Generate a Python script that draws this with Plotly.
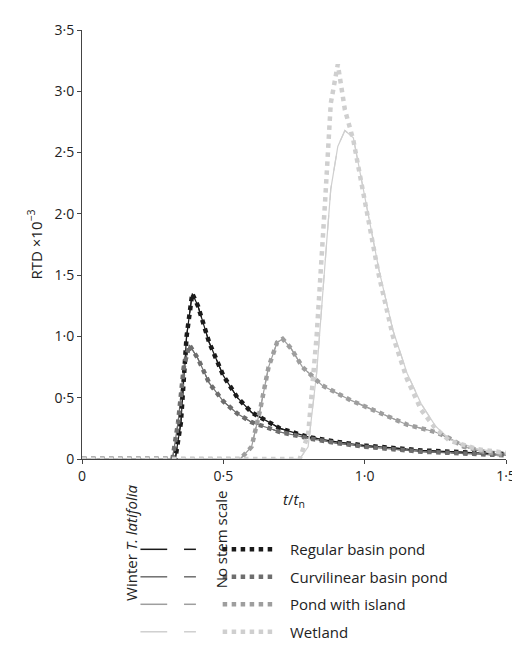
import plotly.graph_objects as go

# t/tn sample points and RTD values (x10^-3)
reg_x = [0, 0.33, 0.35, 0.37, 0.39, 0.41, 0.45, 0.5, 0.55, 0.6, 0.7, 0.8, 0.9, 1.0, 1.1, 1.2, 1.3, 1.4, 1.5]
reg_y = [0, 0, 0.3, 1.0, 1.35, 1.25, 0.95, 0.68, 0.5, 0.38, 0.25, 0.18, 0.14, 0.11, 0.09, 0.07, 0.06, 0.05, 0.04]

cur_x = [0, 0.32, 0.34, 0.36, 0.38, 0.41, 0.45, 0.5, 0.55, 0.6, 0.7, 0.8, 0.9, 1.0, 1.1, 1.2, 1.3, 1.4, 1.5]
cur_y = [0, 0, 0.3, 0.75, 0.93, 0.82, 0.62, 0.47, 0.37, 0.3, 0.22, 0.17, 0.13, 0.1, 0.08, 0.06, 0.05, 0.04, 0.03]

pond_x = [0, 0.56, 0.6, 0.63, 0.66, 0.69, 0.71, 0.74, 0.78, 0.85, 0.95, 1.05, 1.15, 1.25, 1.3, 1.35, 1.42, 1.5]
pond_y = [0, 0, 0.1, 0.4, 0.75, 0.95, 0.98, 0.9, 0.75, 0.6, 0.48, 0.38, 0.28, 0.22, 0.17, 0.1, 0.06, 0.03]

wet_x = [0, 0.77, 0.8, 0.83, 0.86, 0.88, 0.905, 0.93, 0.96, 1.0, 1.05, 1.1, 1.15, 1.2, 1.25, 1.3, 1.4, 1.5]
wet_y = [0, 0, 0.2, 1.0, 2.1, 2.9, 3.22, 2.85, 2.6, 2.1, 1.5, 1.0, 0.65, 0.4, 0.25, 0.15, 0.08, 0.05]
wet_solid_y = [0, 0, 0.1, 0.7, 1.6, 2.2, 2.55, 2.68, 2.62, 2.15, 1.55, 1.05, 0.7, 0.45, 0.27, 0.16, 0.08, 0.05]

names = ["Regular basin pond", "Curvilinear basin pond", "Pond with island", "Wetland"]
colors = ["#1a1a1a", "#6e6e6e", "#9e9e9e", "#cfcfcf"]
series = [(reg_x, reg_y, reg_y), (cur_x, cur_y, cur_y), (pond_x, pond_y, pond_y), (wet_x, wet_solid_y, wet_y)]

fig = go.Figure()
for (xs, ys_line, ys_dot), c in zip(series, colors):
    fig.add_trace(go.Scatter(x=xs, y=ys_line, mode="lines", line=dict(color=c, width=1.2)))
    fig.add_trace(go.Scatter(x=xs, y=ys_line, mode="lines", line=dict(color=c, width=1.2, dash="longdash")))
for (xs, ys_line, ys_dot), c in zip(series, colors):
    fig.add_trace(go.Scatter(x=xs, y=ys_dot, mode="lines", line=dict(color=c, width=4.5, dash="dot")))

# legend drawn by hand below the axes
def px(x):
    return (x - 74) / 428.0

def py(y):
    return (451 - y) / 437.0

rows = [543, 571, 599, 627]
for r, c, n in zip(rows, colors, names):
    fig.add_shape(type="line", xref="paper", yref="paper", x0=px(133), x1=px(160), y0=py(r), y1=py(r), line=dict(color=c, width=1.5))
    fig.add_shape(type="line", xref="paper", yref="paper", x0=px(177), x1=px(189), y0=py(r), y1=py(r), line=dict(color=c, width=1.5))
    fig.add_shape(type="line", xref="paper", yref="paper", x0=px(216), x1=px(269), y0=py(r), y1=py(r), line=dict(color=c, width=4.5, dash="dot"))
    fig.add_annotation(xref="paper", yref="paper", x=px(282), y=py(r), text=n, showarrow=False,
                       xanchor="left", yanchor="middle", font=dict(size=15, color="#222"))
fig.add_annotation(xref="paper", yref="paper", x=px(112), y=py(598), text="Winter <i>T. latifolia</i>",
                   textangle=-90, showarrow=False, font=dict(size=15, color="#222"))
fig.add_annotation(xref="paper", yref="paper", x=px(202), y=py(585), text="No stem scale",
                   textangle=-90, showarrow=False, font=dict(size=15, color="#222"))

fig.update_layout(
    width=520, height=661, showlegend=False,
    plot_bgcolor="white", paper_bgcolor="white",
    margin=dict(l=74, r=18, t=14, b=210),
    font=dict(family="Open Sans", size=14, color="#222"),
)
fig.update_xaxes(range=[0, 1.5], tickvals=[0, 0.5, 1.0, 1.5], ticktext=["0", "0·5", "1·0", "1·5"],
                 showgrid=False, zeroline=False, showline=True, linecolor="#444", ticks="outside",
                 ticklen=4, tickcolor="#444",
                 title=dict(text="<i>t</i>/<i>t</i><sub>n</sub>", font=dict(size=15), standoff=10))
fig.update_yaxes(range=[0, 3.5], tickvals=[0, 0.5, 1.0, 1.5, 2.0, 2.5, 3.0, 3.5],
                 ticktext=["0", "0·5", "1·0", "1·5", "2·0", "2·5", "3·0", "3·5"],
                 showgrid=False, zeroline=False, showline=True, linecolor="#444", ticks="outside",
                 ticklen=4, tickcolor="#444",
                 title=dict(text="RTD ×10<sup>−3</sup>", font=dict(size=15), standoff=8))
fig.write_html("out.html")
